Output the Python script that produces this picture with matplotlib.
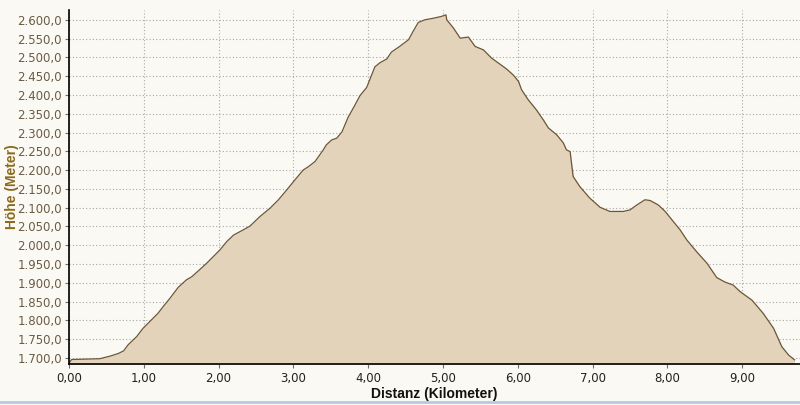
import matplotlib
matplotlib.use("Agg")
import matplotlib.pyplot as plt
from matplotlib.ticker import FuncFormatter, MultipleLocator
from matplotlib.lines import Line2D

distance_km = [0.0, 0.013, 0.036, 0.41, 0.55, 0.66, 0.73, 0.79, 0.905, 0.99, 1.08, 1.19, 1.26,
               1.35, 1.46, 1.57, 1.64, 1.73, 1.84, 2.02, 2.11, 2.20, 2.33, 2.42, 2.55, 2.69,
               2.80, 2.91, 3.00, 3.13, 3.20, 3.29, 3.40, 3.44, 3.51, 3.58, 3.65, 3.73, 3.82,
               3.89, 3.98, 4.02, 4.09, 4.16, 4.25, 4.31, 4.42, 4.54, 4.60, 4.67, 4.76, 4.87,
               4.98, 5.04, 5.05, 5.14, 5.23, 5.34, 5.43, 5.54, 5.65, 5.74, 5.85, 5.94, 6.01,
               6.05, 6.14, 6.25, 6.34, 6.41, 6.52, 6.61, 6.65, 6.70, 6.74, 6.83, 6.96, 7.10,
               7.23, 7.41, 7.50, 7.59, 7.70, 7.77, 7.88, 7.97, 8.08, 8.17, 8.26, 8.39, 8.53,
               8.66, 8.77, 8.88, 8.97, 9.13, 9.28, 9.42, 9.53, 9.62, 9.70]
elevation_m = [1686, 1690, 1696, 1698, 1705, 1712, 1719, 1735, 1757, 1779, 1797, 1819, 1837,
               1859, 1888, 1908, 1916, 1932, 1952, 1988, 2010, 2027, 2041, 2051, 2076, 2099,
               2121, 2147, 2169, 2200, 2209, 2223, 2254, 2267, 2280, 2285, 2302, 2340, 2372,
               2398, 2420, 2440, 2475, 2486, 2496, 2514, 2529, 2547, 2569, 2593, 2600, 2604,
               2609, 2613, 2600, 2578, 2551, 2554, 2529, 2520, 2498, 2485, 2469, 2453, 2436,
               2414, 2387, 2360, 2334, 2312, 2294, 2272, 2254, 2249, 2183, 2156, 2126, 2101,
               2090, 2090, 2094, 2107, 2121, 2119, 2107, 2090, 2063, 2041, 2014, 1983, 1952,
               1914, 1902, 1894, 1877, 1854, 1819, 1779, 1730, 1708, 1695]

x_label = "Distanz (Kilometer)"
y_label = "Höhe (Meter)"

bg = "#FBF9F3"
fig = plt.figure(figsize=(8.0, 4.05), dpi=100, facecolor=bg)
ax = fig.add_axes([69/800, 41/405, (800-69)/800, (364-10)/405], facecolor=bg)

ax.fill_between(distance_km, elevation_m, 1600, color="#E2D3BA", zorder=2, linewidth=0)
ax.plot(distance_km, elevation_m, color="#6B5637", linewidth=0.9, zorder=3)

ax.set_xlim(0, 9.773)
ax.set_ylim(1684, 2626)
ax.xaxis.set_major_locator(MultipleLocator(1.0))
ax.yaxis.set_major_locator(MultipleLocator(50))

def fmt_y(v, pos):
    s = f"{v:,.1f}"
    return s.replace(",", "X").replace(".", ",").replace("X", ".")

def fmt_x(v, pos):
    return f"{v:.2f}".replace(".", ",")

ax.yaxis.set_major_formatter(FuncFormatter(fmt_y))
ax.xaxis.set_major_formatter(FuncFormatter(fmt_x))

ax.grid(True, color="#A8A8A8", linestyle=(0, (1, 2)), linewidth=0.8, zorder=1)
for gl in ax.get_xgridlines() + ax.get_ygridlines():
    gl.set_zorder(4)

for s in ["top", "right"]:
    ax.spines[s].set_visible(False)
for s in ["left", "bottom"]:
    ax.spines[s].set_color("black")
    ax.spines[s].set_linewidth(1.2)
    ax.spines[s].set_zorder(5)

ax.tick_params(axis="y", length=3, width=0.8, colors="#6E6E6E", labelcolor="#6B5B45",
               labelsize=8.5, pad=2)
ax.tick_params(axis="x", length=3, width=0.8, colors="#6E6E6E", labelcolor="#222222",
               labelsize=8.5, pad=3)
for lab in ax.get_yticklabels() + ax.get_xticklabels():
    lab.set_family("DejaVu Sans")

ax.set_xlabel(x_label, fontsize=10, fontweight="bold", color="#111111",
              family="Liberation Sans", labelpad=1)
ax.set_ylabel(y_label, fontsize=10, fontweight="bold", color="#8A6A1E",
              family="Liberation Sans")
ax.yaxis.set_label_coords(-0.069, 0.5)

fig.add_artist(Line2D([0, 1], [3/405, 3/405], color="#B7C9DE", linewidth=2.0,
                      transform=fig.transFigure))

fig.savefig("out.png", dpi=100, facecolor=bg)
